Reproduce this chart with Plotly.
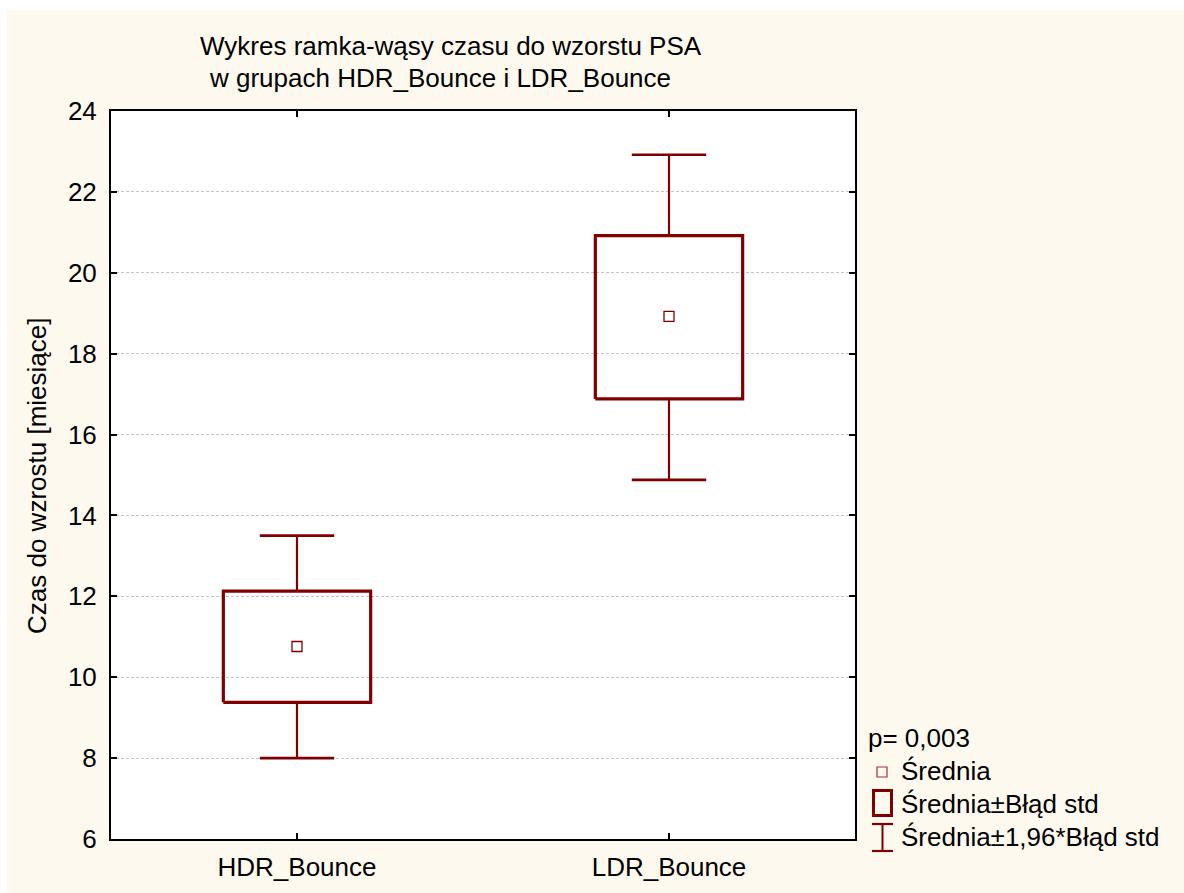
import plotly.graph_objects as go

# Group summary: mean, mean ± std. error, mean ± 1.96 * std. error
categories = ["HDR_Bounce", "LDR_Bounce"]
means = [10.76, 18.92]
se_low = [9.38, 16.88]
se_high = [12.13, 20.92]
ci_low = [8.0, 14.88]
ci_high = [13.5, 22.92]
y_ticks = [6, 8, 10, 12, 14, 16, 18, 20, 22, 24]

DARK_RED = "#800000"
CREAM = "#FEF9EF"
FONT = "Liberation Sans, Arial, sans-serif"

W, H = 1184, 893
L, R, T, B = 111, 855, 111, 839  # plot area in pixels


def px(x):
    return (x - L) / (R - L)


def py(y):
    return (B - y) / (B - T)


BOX_HALF = 0.198
CAP_HALF = 0.1

fig = go.Figure()

for i, cat in enumerate(categories):
    # whiskers (mean ± 1.96 * SE)
    fig.add_trace(go.Scatter(
        x=[i, i, None, i, i],
        y=[se_high[i], ci_high[i], None, se_low[i], ci_low[i]],
        mode="lines", line=dict(color=DARK_RED, width=2.2),
        hoverinfo="skip", showlegend=False))
    fig.add_trace(go.Scatter(
        x=[i - CAP_HALF, i + CAP_HALF, None, i - CAP_HALF, i + CAP_HALF],
        y=[ci_high[i], ci_high[i], None, ci_low[i], ci_low[i]],
        mode="lines", line=dict(color=DARK_RED, width=2.6),
        hoverinfo="skip", showlegend=False))
    # box (mean ± SE)
    fig.add_trace(go.Scatter(
        x=[i - BOX_HALF, i + BOX_HALF, i + BOX_HALF, i - BOX_HALF, i - BOX_HALF],
        y=[se_low[i], se_low[i], se_high[i], se_high[i], se_low[i]],
        mode="lines", line=dict(color=DARK_RED, width=3.2),
        hoverinfo="skip", showlegend=False))

# means
fig.add_trace(go.Scatter(
    x=list(range(len(categories))), y=means, mode="markers",
    marker=dict(symbol="square-open", size=10, color=DARK_RED,
                line=dict(width=1.3, color=DARK_RED)),
    showlegend=False))

shapes = [
    # white strips at the top and left edge of the page
    dict(type="rect", xref="paper", yref="paper", x0=px(0), x1=px(W),
         y0=py(0), y1=py(10), fillcolor="white", line=dict(width=0), layer="below"),
    dict(type="rect", xref="paper", yref="paper", x0=px(0), x1=px(7),
         y0=py(0), y1=py(H), fillcolor="white", line=dict(width=0), layer="below"),
    # legend symbols
    dict(type="rect", xref="paper", yref="paper", x0=px(877), x1=px(887),
         y0=py(777), y1=py(767), line=dict(color="#a03030", width=1.2)),
    dict(type="rect", xref="paper", yref="paper", x0=px(873.5), x1=px(891.5),
         y0=py(815.5), y1=py(790.5), line=dict(color=DARK_RED, width=3)),
    dict(type="line", xref="paper", yref="paper", x0=px(872), x1=px(893),
         y0=py(824), y1=py(824), line=dict(color=DARK_RED, width=2.2)),
    dict(type="line", xref="paper", yref="paper", x0=px(872), x1=px(893),
         y0=py(851), y1=py(851), line=dict(color=DARK_RED, width=2.2)),
    dict(type="line", xref="paper", yref="paper", x0=px(882.5), x1=px(882.5),
         y0=py(824), y1=py(851), line=dict(color=DARK_RED, width=2)),
]

txt = dict(family=FONT, size=26, color="black")
annotations = [
    dict(text="Wykres ramka-wąsy czasu do wzorstu PSA", x=px(451), y=py(46),
         xref="paper", yref="paper", showarrow=False, font=txt,
         xanchor="center", yanchor="middle"),
    dict(text="w grupach HDR_Bounce i LDR_Bounce", x=px(440), y=py(78),
         xref="paper", yref="paper", showarrow=False, font=txt,
         xanchor="center", yanchor="middle"),
    dict(text="Czas do wzrostu [miesiące]", x=px(37), y=py(476), textangle=-90,
         xref="paper", yref="paper", showarrow=False, font=txt,
         xanchor="center", yanchor="middle"),
    dict(text="p= 0,003", x=px(866), y=py(738), xref="paper", yref="paper",
         showarrow=False, font=txt, xanchor="left", yanchor="middle"),
    dict(text="Średnia", x=px(899), y=py(771), xref="paper", yref="paper",
         showarrow=False, font=txt, xanchor="left", yanchor="middle"),
    dict(text="Średnia±Błąd std", x=px(899), y=py(804), xref="paper", yref="paper",
         showarrow=False, font=txt, xanchor="left", yanchor="middle"),
    dict(text="Średnia±1,96*Błąd std", x=px(899), y=py(837), xref="paper", yref="paper",
         showarrow=False, font=txt, xanchor="left", yanchor="middle"),
]

fig.update_layout(
    width=W, height=H,
    margin=dict(l=L, r=W - R, t=T, b=H - B),
    paper_bgcolor=CREAM, plot_bgcolor="white",
    font=txt, showlegend=False,
    shapes=shapes, annotations=annotations,
)

fig.update_xaxes(
    range=[-0.5, 1.5], tickvals=list(range(len(categories))), ticktext=categories,
    showgrid=False, zeroline=False,
    showline=True, linecolor="black", linewidth=2, mirror="ticks",
    ticks="inside", ticklen=6, tickwidth=1.5, tickcolor="black",
    ticklabelstandoff=4, tickfont=txt,
)
fig.update_yaxes(
    range=[6, 24], tickvals=y_ticks,
    showgrid=True, gridcolor="#c4c4c4", gridwidth=1, griddash="3px,2px",
    zeroline=False,
    showline=True, linecolor="black", linewidth=2, mirror="ticks",
    ticks="inside", ticklen=6, tickwidth=1.5, tickcolor="black",
    ticklabelstandoff=7, tickfont=txt,
)

fig.write_html("out.html")
